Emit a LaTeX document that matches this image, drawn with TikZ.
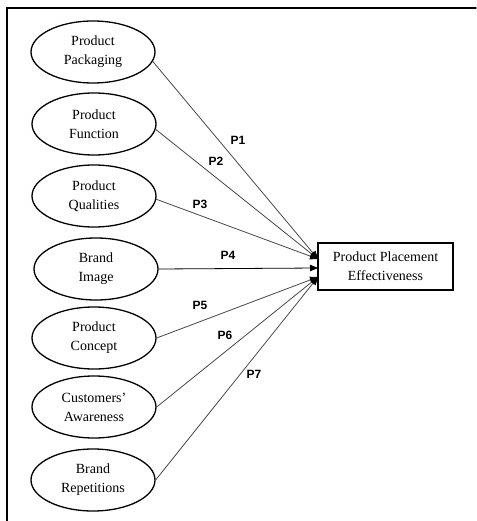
\documentclass[tikz,border=0pt]{standalone}
\usepackage{fontspec}
\setmainfont{Liberation Serif}
\newfontfamily\labelfont{Liberation Sans}
\usetikzlibrary{arrows.meta,shapes.geometric}

\tikzset{
  factor/.style={ellipse,draw,line width=1.3pt,minimum width=124pt,minimum height=62pt,inner sep=0pt,align=center,font=\fontsize{14}{19}\selectfont},
  outcome/.style={rectangle,draw,line width=1.4pt,minimum width=135pt,minimum height=47pt,inner sep=0pt,align=center,font=\fontsize{14}{19}\selectfont},
  path/.style={line width=0.8pt,black!72,-{Triangle[length=8pt,width=6.5pt,color=black]}},
  plabel/.style={font=\labelfont\bfseries\fontsize{12}{14}\selectfont,inner sep=0pt}
}

\begin{document}
\begin{tikzpicture}[x=1pt,y=-1pt,line cap=round]
\useasboundingbox (0,0) rectangle (476,521);
\draw[line width=1.4pt] (7,521) -- (7,8) -- (476,8);

\node[factor] (pack) at (93,52) {Product\\Packaging};
\node[factor] (func) at (94,124) {Product\\Function};
\node[factor] (qual) at (94,196) {Product\\Qualities};
\node[factor] (image) at (96,269) {Brand\\Image};
\node[factor] (conc) at (94,338) {Product\\Concept};
\node[factor] (aware) at (94,407) {Customers'\\Awareness};
\node[factor] (rep) at (93,480) {Brand\\Repetitions};

\node[outcome] (ppe) at (385.5,266.5) {Product Placement\\Effectiveness};
\coordinate (tipA) at (318,259);
\coordinate (tipB) at (318,268);
\coordinate (tipC) at (318,277);

\draw[path] (pack.-9) -- (tipA);
\draw[path] (func.-5) -- (tipA);
\draw[path] (qual.-3) -- (tipA);
\draw[path,black] (image.east) -- (tipB);
\draw[path] (conc.east) -- (tipC);
\draw[path] (aware.east) -- (tipC);
\draw[path] (rep.east) -- (tipC);

\node[plabel] (p1) at (238,140) {P1};
\node[plabel] (p2) at (216,161) {P2};
\node[plabel] (p3) at (200,204) {P3};
\node[plabel] (p4) at (228,255) {P4};
\node[plabel] (p5) at (200,305) {P5};
\node[plabel] (p6) at (225,335) {P6};
\node[plabel] (p7) at (254,374) {P7};
\end{tikzpicture}
\end{document}
